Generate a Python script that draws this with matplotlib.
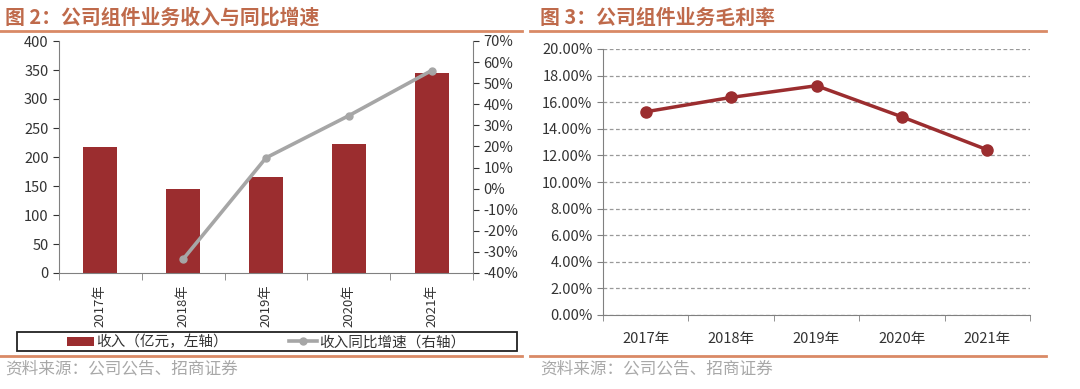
import matplotlib
matplotlib.use("Agg")
import matplotlib.pyplot as plt
from matplotlib.ticker import FuncFormatter, MultipleLocator
from matplotlib.lines import Line2D
from matplotlib.patches import Rectangle
import numpy as np

plt.rcParams['font.family'] = ['Noto Sans CJK SC', 'DejaVu Sans']

# data
years = ['2017年', '2018年', '2019年', '2020年', '2021年']
revenue = [218, 145, 166, 222, 345]          # 亿元, left axis
growth = [None, -33.4, 14.6, 34.6, 56.0]     # %, right axis
margin = [15.28, 16.36, 17.24, 14.90, 12.42]  # %

title_left = '图 2：公司组件业务收入与同比增速'
title_right = '图 3：公司组件业务毛利率'
source = '资料来源：公司公告、招商证券'
legend_labels = ['收入（亿元，左轴）', '收入同比增速（右轴）']

W, H = 1080, 389
bar_color = '#9B2D2F'
gray_line = '#A6A6A6'
orange = '#D98A66'
title_color = '#BF6A4B'
txt = '#333333'

fig = plt.figure(figsize=(W / 100, H / 100), dpi=100)


def fx(px):
    return px / W


def fy(py):
    return 1 - py / H


# titles and rules
fig.text(fx(5), fy(17), title_left, color=title_color, fontsize=14.3,
         fontweight='bold', va='center', ha='left')
fig.text(fx(540), fy(17), title_right, color=title_color, fontsize=14.3,
         fontweight='bold', va='center', ha='left')
for x0, x1 in [(0, 522), (530, 1046)]:
    fig.add_artist(Line2D([fx(x0), fx(x1)], [fy(31), fy(31)], color=orange, lw=2))
    fig.add_artist(Line2D([fx(x0), fx(x1)], [fy(356), fy(356)], color=orange, lw=2))
fig.text(fx(5), fy(369), source, color='#A8A8A8', fontsize=12, va='center')
fig.text(fx(540), fy(369), source, color='#A8A8A8', fontsize=12, va='center')

# ---- left chart ----
x = np.arange(len(years))
ax = fig.add_axes([fx(59), fy(273), fx(414), (273 - 41) / H])
bars = ax.bar(x, revenue, width=0.41, color=bar_color, label=legend_labels[0])
ax.set_xlim(-0.5, 4.5)
ax.set_ylim(0, 400)
ax.yaxis.set_major_locator(MultipleLocator(50))
ax.set_xticks(x)
ax.set_xticklabels(years, rotation=90, fontsize=9.5, color=txt)
ax.set_xticks(np.arange(-0.5, 5, 1), minor=True)
ax.tick_params(axis='x', which='major', length=0, pad=8)
ax.tick_params(axis='x', which='minor', length=5, color='#808080')
ax.tick_params(axis='y', labelsize=10.5, colors=txt, length=4)
for s in ['top', 'right']:
    ax.spines[s].set_visible(False)
for s in ['left', 'bottom']:
    ax.spines[s].set_color('#808080')

ax2 = ax.twinx()
gx = [i for i, g in enumerate(growth) if g is not None]
gy = [g for g in growth if g is not None]
ln, = ax2.plot(gx, gy, color=gray_line, lw=2.6, marker='o', markersize=5,
               label=legend_labels[1])
ax2.set_ylim(-40, 70)
ax2.yaxis.set_major_locator(MultipleLocator(10))
ax2.yaxis.set_major_formatter(FuncFormatter(lambda v, p: f'{v:.0f}%'))
ax2.tick_params(axis='y', labelsize=10.5, colors=txt, length=4)
for s in ['top', 'left', 'bottom']:
    ax2.spines[s].set_visible(False)
ax2.spines['right'].set_color('#808080')

# legend box drawn by hand, legend itself without frame
fig.add_artist(Rectangle((fx(17), fy(351)), fx(500), 19 / H, transform=fig.transFigure,
                         fill=False, edgecolor='#222222', lw=1.3))
leg = fig.legend([bars, ln], legend_labels, loc='center', ncol=2,
                 bbox_to_anchor=(fx(266), fy(342)), frameon=False, fontsize=10.5,
                 handlelength=1.9, handleheight=0.6, handletextpad=0.15,
                 columnspacing=4.2, borderpad=0, borderaxespad=0)
for t in leg.get_texts():
    t.set_color(txt)

# ---- right chart ----
bx = fig.add_axes([fx(603), fy(315), fx(427), (315 - 49) / H])
bx.plot(x, margin, color=bar_color, lw=2.5, marker='o', markersize=8)
bx.set_xlim(-0.5, 4.5)
bx.set_ylim(0, 20)
bx.yaxis.set_major_locator(MultipleLocator(2))
bx.yaxis.set_major_formatter(FuncFormatter(lambda v, p: f'{v:.2f}%'))
bx.grid(axis='y', color='#999999', ls=(0, (3, 2)), lw=0.9)
bx.set_xticks(x)
bx.set_xticklabels(years, fontsize=10.5, color=txt)
bx.set_xticks(np.arange(-0.5, 5, 1), minor=True)
bx.tick_params(axis='x', which='major', length=0, pad=12)
bx.tick_params(axis='x', which='minor', length=4, color='#808080')
bx.tick_params(axis='y', labelsize=10.5, colors=txt, length=4, color='#808080')
for s in ['top', 'right']:
    bx.spines[s].set_visible(False)
for s in ['left', 'bottom']:
    bx.spines[s].set_color('#808080')

fig.savefig('out.png', dpi=100)
